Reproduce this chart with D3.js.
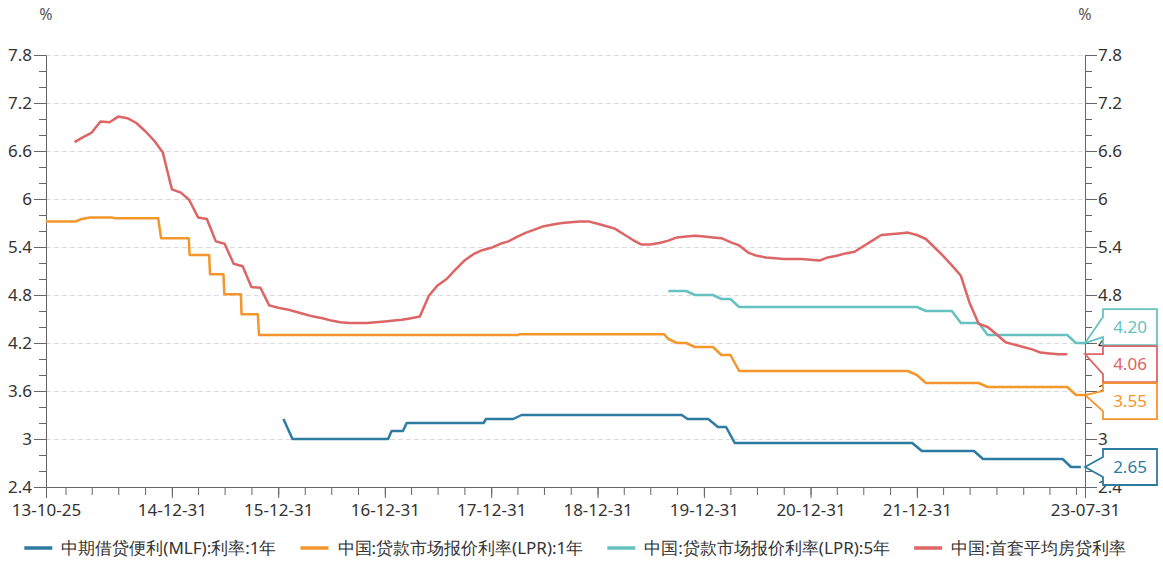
<html>

<head>
  <meta charset="UTF-8">
  <script src="https://d3js.org/d3.v7.min.js"></script>
</head>
<style>
  body {
    margin: 0;
    background: #fff;
  }

  text {
    font-family: "Noto Sans", sans-serif;
  }

  .gridlines line {
    stroke: #dcdcdc;
    stroke-dasharray: 5, 3;
  }

  .gridlines .domain {
    stroke: none;
  }

  .axis .domain,
  .axis line {
    stroke: #666;
  }

  .axis text {
    fill: #333;
    font-size: 17px;
  }
</style>

<body>
  <svg id="chart" width="1163" height="561"></svg>

  <script>
    // series names and colours (legend order)
    const seriesNames = ["中期借贷便利(MLF):利率:1年", "中国:贷款市场报价利率(LPR):1年", "中国:贷款市场报价利率(LPR):5年", "中国:首套平均房贷利率"];
    const seriesColors = ["#2e7ba2", "#f4962b", "#66c2c1", "#dd6565"];

    // MLF 1y, operation dates
    const mlfRate = [
      ["2016-01-18", 3.25], ["2016-02-18", 3.00], ["2017-01-11", 3.00], ["2017-01-23", 3.10],
      ["2017-03-03", 3.10], ["2017-03-16", 3.20], ["2017-12-05", 3.20], ["2017-12-13", 3.25],
      ["2018-03-17", 3.25], ["2018-04-14", 3.30], ["2019-10-16", 3.30], ["2019-11-05", 3.25],
      ["2020-01-15", 3.25], ["2020-02-17", 3.15], ["2020-03-16", 3.15], ["2020-04-15", 2.95],
      ["2021-12-15", 2.95], ["2022-01-17", 2.85], ["2022-07-15", 2.85], ["2022-08-15", 2.75],
      ["2023-05-15", 2.75], ["2023-06-13", 2.65], ["2023-07-17", 2.65]
    ];

    // LPR 1y: old daily quote until 2019-08, then monthly (month end)
    const lpr1yRate = [
      ["2013-10-25", 5.72], ["2014-02-05", 5.72], ["2014-02-24", 5.75], ["2014-03-25", 5.77],
      ["2014-06-07", 5.77], ["2014-06-19", 5.76], ["2014-11-14", 5.76], ["2014-11-24", 5.51],
      ["2015-02-27", 5.51], ["2015-03-02", 5.30], ["2015-05-08", 5.30], ["2015-05-11", 5.06],
      ["2015-06-26", 5.06], ["2015-06-29", 4.81], ["2015-08-25", 4.81], ["2015-08-27", 4.56],
      ["2015-10-22", 4.56], ["2015-10-26", 4.30], ["2018-04-03", 4.30], ["2018-04-08", 4.31],
      ["2019-08-16", 4.31], ["2019-08-31", 4.25], ["2019-09-30", 4.20], ["2019-10-31", 4.20],
      ["2019-11-30", 4.15], ["2020-01-31", 4.15], ["2020-02-29", 4.05], ["2020-03-31", 4.05],
      ["2020-04-30", 3.85], ["2021-11-30", 3.85], ["2021-12-31", 3.80], ["2022-01-31", 3.70],
      ["2022-07-31", 3.70], ["2022-08-31", 3.65], ["2023-05-31", 3.65], ["2023-06-30", 3.55],
      ["2023-07-31", 3.55]
    ];

    // LPR 5y, monthly (month end)
    const lpr5yRate = [
      ["2019-08-31", 4.85], ["2019-10-31", 4.85], ["2019-11-30", 4.80], ["2020-01-31", 4.80],
      ["2020-02-29", 4.75], ["2020-03-31", 4.75], ["2020-04-30", 4.65], ["2021-12-31", 4.65],
      ["2022-01-31", 4.60], ["2022-04-30", 4.60], ["2022-05-31", 4.45], ["2022-07-31", 4.45],
      ["2022-08-31", 4.30], ["2023-05-31", 4.30], ["2023-06-30", 4.20], ["2023-07-31", 4.20]
    ];

    // first home mortgage average rate, monthly from 2014-01
    const mortgageStart = "2014-01";
    const mortgageRate = [
      6.71, 6.77, 6.83, 6.97, 6.96, 7.03, 7.01, 6.95, 6.85, 6.73, 6.58, 6.12,
      6.08, 5.99, 5.77, 5.75, 5.47, 5.44, 5.19, 5.16, 4.90, 4.89, 4.67, 4.64,
      4.62, 4.59, 4.56, 4.53, 4.51, 4.48, 4.46, 4.45, 4.45, 4.45, 4.46, 4.47,
      4.48, 4.49, 4.51, 4.53, 4.79, 4.92, 5.00, 5.12, 5.23, 5.31, 5.36, 5.39,
      5.44, 5.47, 5.53, 5.58, 5.62, 5.66, 5.68, 5.70, 5.71, 5.72, 5.72, 5.69,
      5.66, 5.63, 5.56, 5.49, 5.43, 5.43, 5.45, 5.48, 5.52, 5.53, 5.54, 5.53,
      5.52, 5.51, 5.46, 5.42, 5.33, 5.29, 5.27, 5.26, 5.25, 5.25, 5.25, 5.24,
      5.23, 5.27, 5.29, 5.32, 5.34, 5.41, 5.48, 5.55, 5.56, 5.57, 5.58, 5.55,
      5.50, 5.40, 5.29, 5.17, 5.04, 4.70, 4.44, 4.40, 4.31, 4.21, 4.18, 4.15,
      4.12, 4.08, 4.07, 4.06, 4.06
    ];

    // axis ticks
    const yMajorTicks = [2.4, 3, 3.6, 4.2, 4.8, 5.4, 6, 6.6, 7.2, 7.8];
    const xLabelDates = ["2013-10-25", "2014-12-31", "2015-12-31", "2016-12-31", "2017-12-31",
      "2018-12-31", "2019-12-31", "2020-12-31", "2021-12-31", "2023-07-31"];
    const xDomain = ["2013-10-25", "2023-07-31"];

    const parse = d3.timeParse("%Y-%m-%d");
    const svg = d3.select("svg#chart");

    const margins = { top: 55, right: 78, bottom: 74, left: 46 };
    const width = svg.attr("width");
    const height = svg.attr("height");
    const x0 = margins.left, x1 = width - margins.right;
    const y0 = height - margins.bottom, y1 = margins.top;

    const xScale = d3.scaleTime().domain(xDomain.map(parse)).range([x0, x1]);
    const yScale = d3.scaleLinear().domain([2.4, 7.8]).range([y0, y1]);

    // build series as [date, value]
    const toPoints = arr => arr.map(d => [parse(d[0]), d[1]]);
    const mStart = d3.timeParse("%Y-%m")(mortgageStart);
    const mortgagePoints = mortgageRate.map((v, i) =>
      [d3.timeDay.offset(d3.timeMonth.offset(mStart, i + 1), -1), v]);

    const series = [toPoints(mlfRate), toPoints(lpr1yRate), toPoints(lpr5yRate), mortgagePoints];

    // gridlines
    const grid = d3.axisLeft(yScale).tickValues(yMajorTicks.slice(1)).tickFormat("").tickSize(-(x1 - x0));
    svg.append("g").attr("class", "gridlines").attr("transform", `translate(${x0},0)`).call(grid);

    // minor y ticks every 0.2
    const yMinor = d3.range(0, 28).map(i => +(2.4 + i * 0.2).toFixed(1));
    const fmtY = d => String(+d.toFixed(1));

    svg.append("g").attr("class", "axis").attr("transform", `translate(${x0},0)`)
      .call(d3.axisLeft(yScale).tickValues(yMinor).tickFormat("").tickSize(7).tickSizeOuter(0));
    svg.append("g").attr("class", "axis").attr("transform", `translate(${x0},0)`)
      .call(d3.axisLeft(yScale).tickValues(yMajorTicks).tickFormat(fmtY).tickSize(12).tickPadding(2).tickSizeOuter(0));

    svg.append("g").attr("class", "axis").attr("transform", `translate(${x1},0)`)
      .call(d3.axisRight(yScale).tickValues(yMinor).tickFormat("").tickSize(7).tickSizeOuter(0));
    svg.append("g").attr("class", "axis").attr("transform", `translate(${x1},0)`)
      .call(d3.axisRight(yScale).tickValues(yMajorTicks).tickFormat(fmtY).tickSize(12).tickPadding(1).tickSizeOuter(0));

    // x axis: quarter-end ticks plus labelled dates
    const quarterEnds = d3.timeMonth.range(new Date(2014, 0, 1), new Date(2023, 6, 2), 3)
      .map(d => d3.timeDay.offset(d, -1));
    svg.append("g").attr("class", "axis").attr("transform", `translate(0,${y0})`)
      .call(d3.axisBottom(xScale).tickValues(quarterEnds).tickFormat("").tickSize(8).tickSizeOuter(0));
    svg.append("g").attr("class", "axis").attr("transform", `translate(0,${y0})`)
      .call(d3.axisBottom(xScale).tickValues(xLabelDates.map(parse)).tickFormat(d3.timeFormat("%y-%m-%d"))
        .tickSize(11).tickPadding(6).tickSizeOuter(0));

    // unit labels
    [x0, x1].forEach(px => {
      svg.append("text").attr("x", px).attr("y", 20).attr("text-anchor", "middle")
        .attr("font-size", "16px").attr("fill", "#555").text("%");
    });

    // lines
    const line = d3.line().x(d => xScale(d[0])).y(d => yScale(d[1]));
    svg.append("g").selectAll("path.series").data(series)
      .join("path").attr("class", "series")
      .attr("d", line)
      .attr("fill", "none")
      .attr("stroke", (d, i) => seriesColors[i])
      .attr("stroke-width", 2.5)
      .attr("stroke-linejoin", "round");

    // end value labels, stacked so they don't overlap
    const boxH = 36, boxW = 54, gap = 1, boxLeft = x1 + 18;
    let labels = series.map((s, i) => ({ value: s[s.length - 1][1], color: seriesColors[i], py: yScale(s[s.length - 1][1]) }))
      .sort((a, b) => a.py - b.py);

    let groups = labels.map(l => ({ items: [l] }));
    const place = g => {
      const n = g.items.length;
      const c = d3.mean(g.items, d => d.py);
      g.items.forEach((d, k) => d.cy = c + (k - (n - 1) / 2) * (boxH + gap));
    };
    groups.forEach(place);
    let merged = true;
    while (merged) {
      merged = false;
      for (let k = 0; k < groups.length - 1; k++) {
        const a = groups[k], b = groups[k + 1];
        if (b.items[0].cy - a.items[a.items.length - 1].cy < boxH + gap) {
          a.items = a.items.concat(b.items);
          groups.splice(k + 1, 1);
          place(a);
          merged = true;
          break;
        }
      }
    }

    const callout = svg.append("g");
    labels.forEach(l => {
      const top = l.cy - boxH / 2, bot = l.cy + boxH / 2;
      const p = `M${boxLeft},${top}H${boxLeft + boxW}V${bot}H${boxLeft}V${l.cy + 10}L${x1},${l.py}L${boxLeft},${l.cy - 10}Z`;
      callout.append("path").attr("d", p)
        .attr("fill", "white").attr("stroke", l.color).attr("stroke-width", 1.8);
      callout.append("text").attr("x", boxLeft + boxW / 2).attr("y", l.cy).attr("dy", "0.36em")
        .attr("text-anchor", "middle").attr("font-size", "17px").attr("fill", l.color)
        .text(l.value.toFixed(2));
    });

    // legend, centred
    const legend = svg.append("g").attr("transform", `translate(0,548)`);
    const items = legend.selectAll("g").data(seriesNames).join("g");
    items.append("line").attr("x1", 0).attr("x2", 28).attr("y1", 0).attr("y2", 0)
      .attr("stroke", (d, i) => seriesColors[i]).attr("stroke-width", 3.5);
    items.append("text").attr("x", 37).attr("dy", "0.35em")
      .attr("font-family", "'Noto Sans CJK SC', sans-serif").attr("font-size", "17px").attr("fill", "#333")
      .text(d => d);
    let widths = [];
    items.each(function () { widths.push(37 + this.querySelector("text").getComputedTextLength()); });
    const itemGap = 24;
    const total = d3.sum(widths) + itemGap * (widths.length - 1);
    let cursor = 575 - total / 2;
    items.attr("transform", (d, i) => {
      const t = `translate(${cursor},0)`;
      cursor += widths[i] + itemGap;
      return t;
    });
  </script>
</body>

</html>
